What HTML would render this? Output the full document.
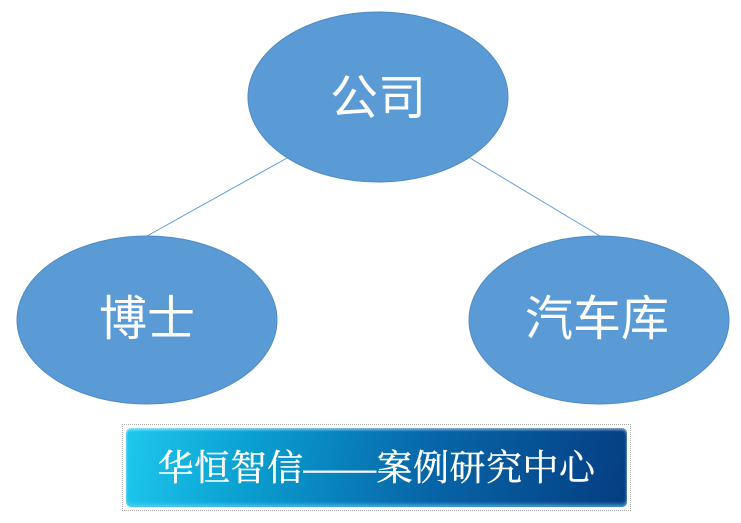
<!DOCTYPE html>
<html><head><meta charset="utf-8"><style>
html,body{margin:0;padding:0;background:#fff;width:741px;height:523px;overflow:hidden;position:relative}
.t{position:absolute;color:#fff;font-family:"Liberation Sans","Noto Sans CJK SC",sans-serif;font-size:48px;line-height:1;white-space:nowrap;transform:translate(-50%,-50%)}
.ban{position:absolute;left:122px;top:424px;width:509px;height:87px;border:1px dotted #aaa;box-sizing:border-box}
.bin{position:absolute;left:3px;top:3px;right:3px;bottom:3px;border-radius:5px;background:linear-gradient(100deg,#1ec8ee 0%,#0a9fd0 25%,#0766a8 60%,#063d82 100%);box-shadow:inset 0 2px 2px rgba(255,255,255,.5),inset 0 -3px 3px rgba(120,220,255,.5)}
.bt{position:absolute;left:0;right:0;top:50%;transform:translateY(-50%);text-align:center;color:#fff;font-family:"Liberation Serif","Noto Serif CJK SC",serif;font-size:36px;letter-spacing:0.5px;line-height:1;-webkit-text-stroke:0.4px #fff}
</style></head><body>
<svg width="741" height="523" style="position:absolute;left:0;top:0">
<line x1="287" y1="158" x2="147" y2="236" stroke="#5b9bd5" stroke-width="1"/>
<line x1="470" y1="158" x2="600" y2="236" stroke="#5b9bd5" stroke-width="1"/>
<ellipse cx="378" cy="97" rx="130" ry="85" fill="#5b9bd5" stroke="#4f8ac4" stroke-width="1"/>
<ellipse cx="147" cy="320" rx="130" ry="84" fill="#5b9bd5" stroke="#4f8ac4" stroke-width="1"/>
<ellipse cx="599" cy="320" rx="130" ry="84" fill="#5b9bd5" stroke="#4f8ac4" stroke-width="1"/>
</svg>
<div class="t" style="left:378px;top:99px">公司</div>
<div class="t" style="left:147px;top:320px">博士</div>
<div class="t" style="left:597px;top:320px">汽车库</div>
<div class="ban"><div class="bin"><div class="bt">华恒智信——案例研究中心</div></div></div>
</body></html>
